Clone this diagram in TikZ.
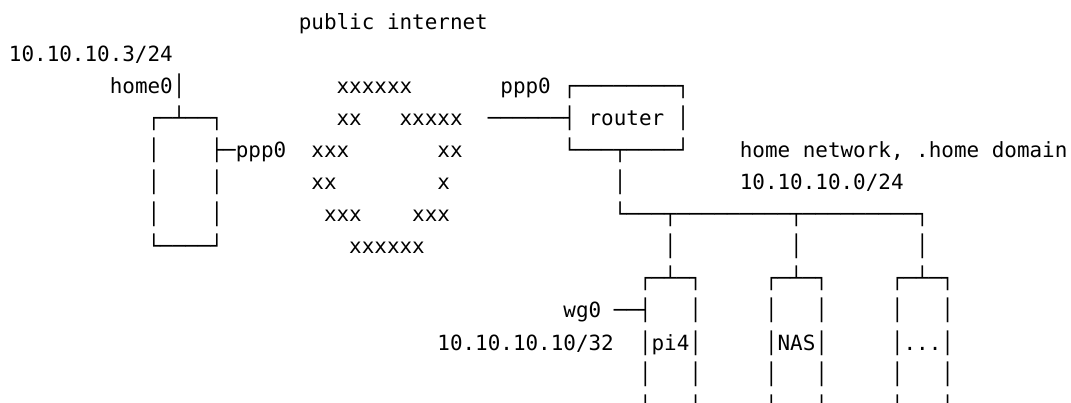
\documentclass[tikz,border=0pt]{standalone}
\usepackage{fontspec}
\newfontfamily\asciimono{DejaVu Sans Mono}
\tikzset{
  cell/.style={anchor=base west, inner sep=0pt, outer sep=0pt, text=black,
    font=\asciimono\fontsize{20.93}{32}\selectfont}
}
\begin{document}
\begin{tikzpicture}[x=12.6pt,y=-32pt]
\useasboundingbox (-9pt,30pt) rectangle (1062pt,-373pt);
\clip (-9pt,30pt) rectangle (1062pt,-373pt);
% row 0
\node[cell] (pubnet) at (23,0) {public internet};
% row 1
\node[cell] (homeip) at (0,1) {10.10.10.3/24};
% row 2
\node[cell] (home0) at (8,2) {home0│};
\node[cell] (cloudA) at (26,2) {xxxxxx};
\node[cell] (pppR) at (39,2) {ppp0};
\node[cell] (routerTop) at (44,2) {┌────────┐};
% row 3
\node[cell] (homeTop) at (11,3) {┌─┴──┐};
\node[cell] (cloudB1) at (26,3) {xx};
\node[cell] (cloudB2) at (31,3) {xxxxx};
\node[cell] (wanLink) at (38,3) {──────┤};
\node[cell] (router) at (46,3) {router};
\node[cell] (routerR) at (53,3) {│};
% row 4
\node[cell] (homeL4) at (11,4) {│};
\node[cell] (pppH) at (16,4) {├─ppp0};
\node[cell] (cloudC1) at (24,4) {xxx};
\node[cell] (cloudC2) at (34,4) {xx};
\node[cell] (routerBot) at (44,4) {└───┬────┘};
\node[cell] (homenet) at (58,4) {home network, .home domain};
% row 5
\node[cell] (homeL5) at (11,5) {│};
\node[cell] (homeR5) at (16,5) {│};
\node[cell] (cloudD1) at (24,5) {xx};
\node[cell] (cloudD2) at (34,5) {x};
\node[cell] (lanUp) at (48,5) {│};
\node[cell] (lanip) at (58,5) {10.10.10.0/24};
% row 6
\node[cell] (homeL6) at (11,6) {│};
\node[cell] (homeR6) at (16,6) {│};
\node[cell] (cloudE1) at (25,6) {xxx};
\node[cell] (cloudE2) at (32,6) {xxx};
\node[cell] (lanBus) at (48,6) {└───┬─────────┬─────────┐};
% row 7
\node[cell] (homeBot) at (11,7) {└────┘};
\node[cell] (cloudF) at (27,7) {xxxxxx};
\node[cell] (dropA) at (52,7) {│};
\node[cell] (dropB) at (62,7) {│};
\node[cell] (dropC) at (72,7) {│};
% row 8
\node[cell] (piTop) at (50,8) {┌─┴─┐};
\node[cell] (nasTop) at (60,8) {┌─┴─┐};
\node[cell] (dotTop) at (70,8) {┌─┴─┐};
% row 9
\node[cell] (wg0) at (44,9) {wg0};
\node[cell] (wgLink) at (48,9) {──┤};
\node[cell] (piR9) at (54,9) {│};
\node[cell] (nasL9) at (60,9) {│};
\node[cell] (nasR9) at (64,9) {│};
\node[cell] (dotL9) at (70,9) {│};
\node[cell] (dotR9) at (74,9) {│};
% row 10
\node[cell] (wgip) at (34,10) {10.10.10.10/32};
\node[cell] (pi4) at (50,10) {│pi4│};
\node[cell] (nas) at (60,10) {│NAS│};
\node[cell] (dots) at (70,10) {│...│};
% rows 11, 12
\foreach \r in {11,12}{
  \foreach \c in {50,54,60,64,70,74}{
    \node[cell] (side-\c-\r) at (\c,\r) {│};
  }
}
\end{tikzpicture}
\end{document}
